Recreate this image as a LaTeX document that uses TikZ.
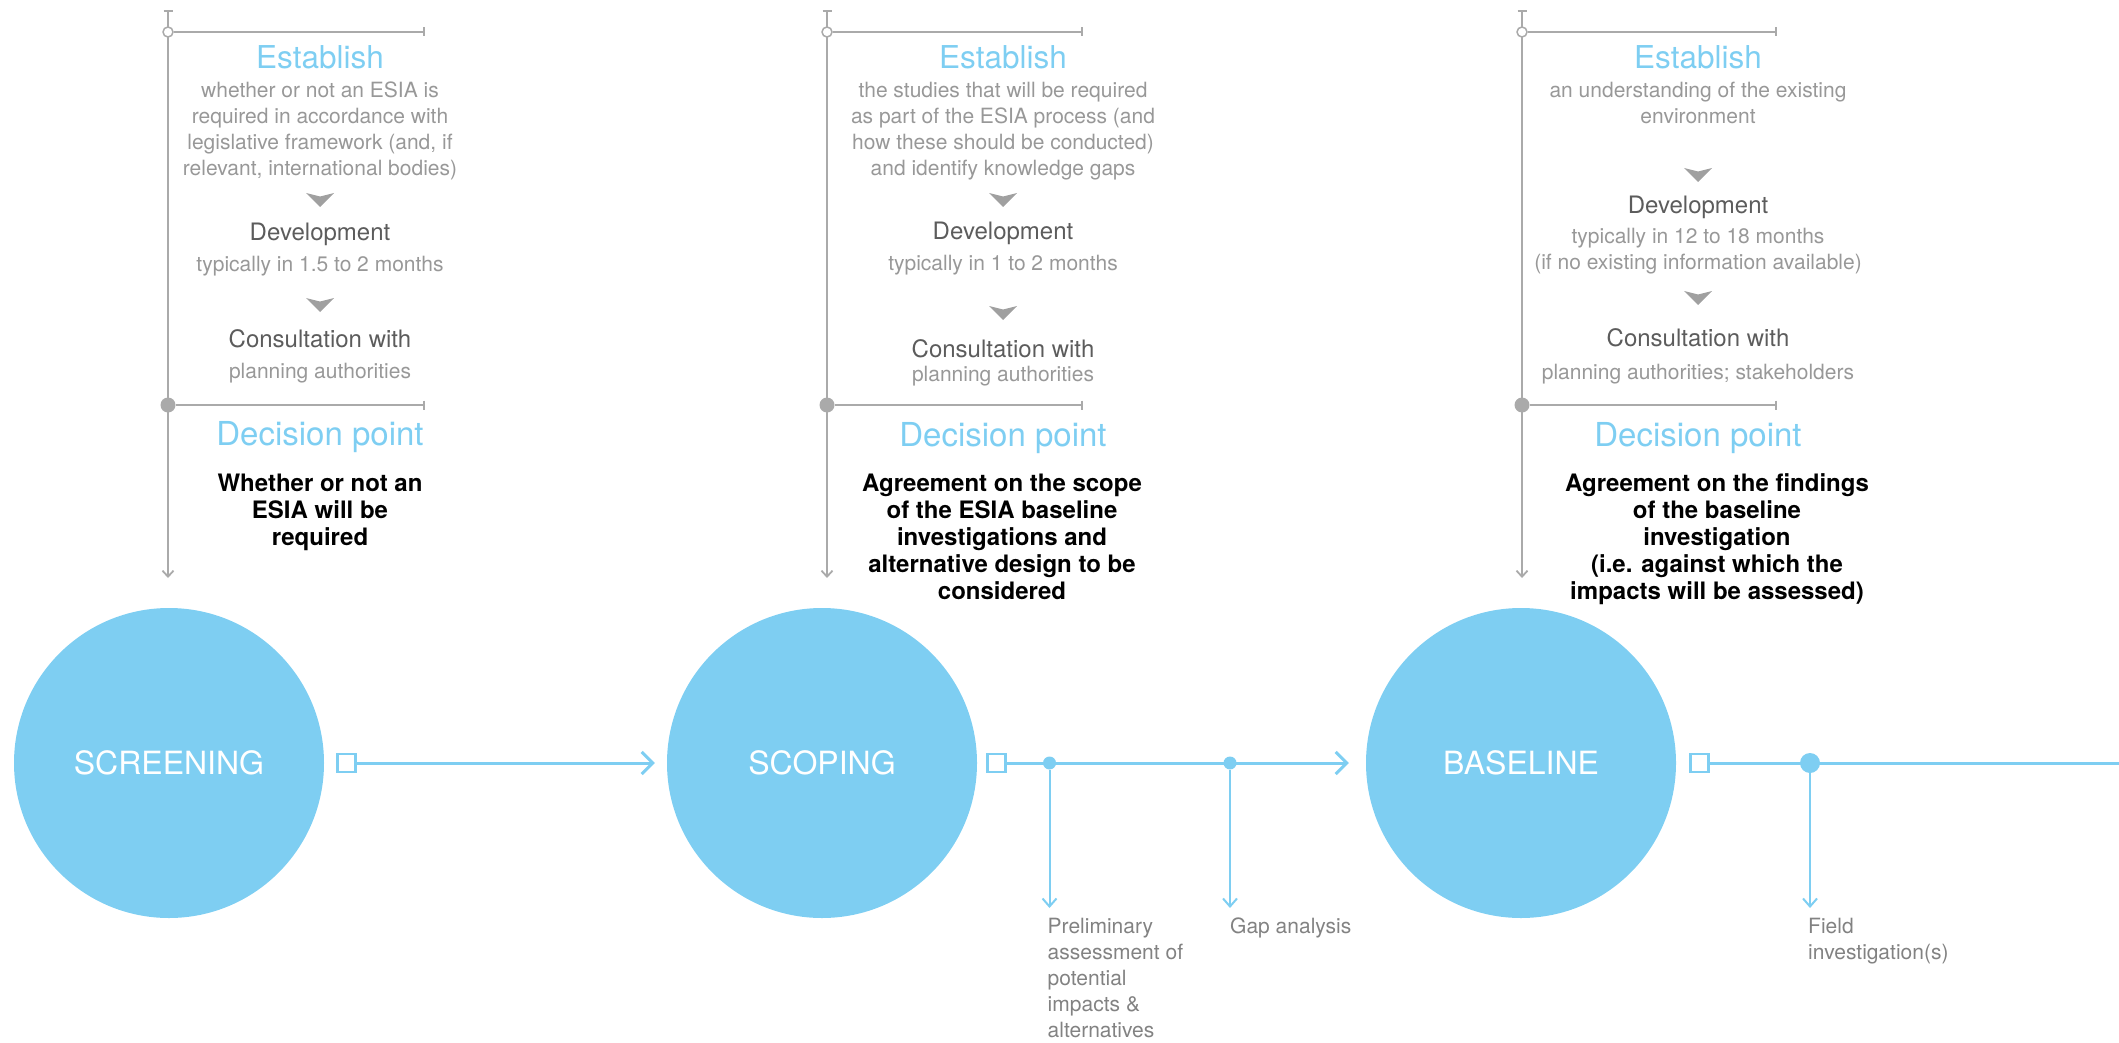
\documentclass[tikz,border=0pt]{standalone}
\usepackage{fontspec}
\setmainfont{TeX Gyre Heros}
\usetikzlibrary{arrows.meta,positioning}

\definecolor{esiablue}{RGB}{126,206,242}
\definecolor{railgray}{RGB}{170,170,170}
\definecolor{chevgray}{RGB}{160,160,160}
\definecolor{bodygray}{RGB}{152,152,152}
\definecolor{subgray}{RGB}{92,92,92}
\definecolor{notegray}{RGB}{130,130,130}

\begin{document}
\begin{tikzpicture}[x=1pt,y=-1pt,
		stage/.style={circle,fill=esiablue,minimum size=310pt,inner sep=0pt,text=white,font=\fontsize{32}{36}\selectfont},
		head/.style={text=esiablue,inner sep=0pt,font=\fontsize{31.5}{36}\selectfont},
		decide/.style={head,font=\fontsize{33}{38}\selectfont},
		body/.style={text=bodygray,align=center,inner sep=0pt,font=\fontsize{21}{26}\selectfont},
		sub/.style={text=subgray,inner sep=0pt,font=\fontsize{24}{28}\selectfont},
		verdict/.style={text=black,align=center,inner sep=0pt,font=\fontsize{24}{27}\selectfont\bfseries},
		note/.style={text=notegray,align=left,inner sep=0pt,font=\fontsize{21}{26}\selectfont},
		rail/.style={draw=railgray,line width=1.8pt},
		opendot/.style={circle,draw=railgray,fill=white,line width=1.5pt,minimum size=10pt,inner sep=0pt},
		closeddot/.style={circle,fill=railgray,minimum size=15pt,inner sep=0pt},
		flow/.style={draw=esiablue,line width=3pt},
		drop/.style={draw=esiablue,line width=2pt,-{Straight Barb[length=8pt,width=14pt]}},
		gate/.style={rectangle,draw=esiablue,fill=white,line width=2.5pt,minimum size=18pt,inner sep=0pt},
		junction/.style={circle,fill=esiablue,minimum size=13pt,inner sep=0pt}]
	\useasboundingbox (0,0) rectangle (2119,1043);

	% stages
	\node[stage] (screening) at (169,763) {SCREENING};
	\node[stage] (scoping) at (822,763) {SCOPING};
	\node[stage] (baseline) at (1521,763) {BASELINE};

	% screening panel
	\coordinate (top1) at (168,10);
	\coordinate (foot1) at (168,578);
	\draw[rail,{Bar[width=9pt]}-{Straight Barb[length=6pt,width=11pt]}] (top1) -- (foot1);
	\node[opendot] (open1) at (168,32) {};
	\node[closeddot] (shut1) at (168,405) {};
	\coordinate (stop1a) at (425,32);
	\coordinate (stop1b) at (425,405);
	\draw[rail,-{Bar[width=9pt]}] (open1) -- (stop1a);
	\draw[rail,-{Bar[width=9pt]}] (shut1) -- (stop1b);
	\node[head] (est1) at (320,57) {Establish};
	\node[body] (what1) at (320,131) {whether or not an ESIA is\\required in accordance with\\legislative framework (and, if\\relevant, international bodies)};
	\fill[chevgray] (306,193) -- (320,196.5) -- (334,193) -- (320,207) -- cycle;
	\node[sub] (dev1) at (320,234) {Development};
	\node[body] (time1) at (320,266) {typically in 1.5 to 2 months};
	\fill[chevgray] (306,298) -- (320,301.5) -- (334,298) -- (320,312) -- cycle;
	\node[sub] (con1) at (320,339) {Consultation with};
	\node[body] (who1) at (320,373) {planning authorities};
	\node[decide] (dp1) at (320,437) {Decision point};
	\node[verdict] (out1) at (320,512) {Whether or not an\\ESIA will be\\required};

	% scoping panel
	\coordinate (top2) at (827,10);
	\coordinate (foot2) at (827,578);
	\draw[rail,{Bar[width=9pt]}-{Straight Barb[length=6pt,width=11pt]}] (top2) -- (foot2);
	\node[opendot] (open2) at (827,32) {};
	\node[closeddot] (shut2) at (827,405) {};
	\coordinate (stop2a) at (1083,32);
	\coordinate (stop2b) at (1083,405);
	\draw[rail,-{Bar[width=9pt]}] (open2) -- (stop2a);
	\draw[rail,-{Bar[width=9pt]}] (shut2) -- (stop2b);
	\node[head] (est2) at (1003,57) {Establish};
	\node[body] (what2) at (1003,131.5) {the studies that will be required\\as part of the ESIA process (and\\how these should be conducted)\\and identify knowledge gaps};
	\fill[chevgray] (989,193) -- (1003,196.5) -- (1017,193) -- (1003,207) -- cycle;
	\node[sub] (dev2) at (1003,233) {Development};
	\node[body] (time2) at (1003,265) {typically in 1 to 2 months};
	\fill[chevgray] (989,306) -- (1003,309.5) -- (1017,306) -- (1003,320) -- cycle;
	\node[sub] (con2) at (1003,349) {Consultation with};
	\node[body] (who2) at (1003,376) {planning authorities};
	\node[decide] (dp2) at (1003,438) {Decision point};
	\node[verdict] (out2) at (1002,537) {Agreement on the scope\\of the ESIA baseline\\investigations and\\alternative design to be\\considered};

	% baseline panel
	\coordinate (top3) at (1522,10);
	\coordinate (foot3) at (1522,578);
	\draw[rail,{Bar[width=9pt]}-{Straight Barb[length=6pt,width=11pt]}] (top3) -- (foot3);
	\node[opendot] (open3) at (1522,32) {};
	\node[closeddot] (shut3) at (1522,405) {};
	\coordinate (stop3a) at (1777,32);
	\coordinate (stop3b) at (1777,405);
	\draw[rail,-{Bar[width=9pt]}] (open3) -- (stop3a);
	\draw[rail,-{Bar[width=9pt]}] (shut3) -- (stop3b);
	\node[head] (est3) at (1698,57) {Establish};
	\node[body] (what3) at (1698,103) {an understanding of the existing\\environment};
	\fill[chevgray] (1684,168) -- (1698,171.5) -- (1712,168) -- (1698,182) -- cycle;
	\node[sub] (dev3) at (1698,207) {Development};
	\node[body] (time3) at (1698,251) {typically in 12 to 18 months\\(if no existing information available)};
	\fill[chevgray] (1684,291) -- (1698,294.5) -- (1712,291) -- (1698,305) -- cycle;
	\node[sub] (con3) at (1698,338) {Consultation with};
	\node[body] (who3) at (1698,374) {planning authorities; stakeholders};
	\node[decide] (dp3) at (1698,438) {Decision point};
	\node[verdict] (out3) at (1717,539) {Agreement on the findings\\of the baseline\\investigation\\(i.e. against which the\\impacts will be assessed)};

	% flow between stages
	\node[gate,right=12pt of screening] (gate1) {};
	\node[gate,right=9pt of scoping] (gate2) {};
	\node[gate,right=13pt of baseline] (gate3) {};
	\coordinate (edge) at (2119,763);
	\draw[flow,-{Straight Barb[length=11pt,width=22pt]},shorten >=12pt] (gate1) -- (scoping);
	\draw[flow,-{Straight Barb[length=11pt,width=22pt]},shorten >=17pt] (gate2) -- (baseline);
	\draw[flow] (gate3) -- (edge);

	\node[junction] (prelim) at (1049.5,763) {};
	\node[junction] (gap) at (1230,763) {};
	\node[junction,minimum size=20pt] (field) at (1810,763) {};
	\coordinate (prelimend) at (1049.5,908);
	\coordinate (gapend) at (1230,908);
	\coordinate (fieldend) at (1810,908);
	\draw[drop] (prelim) -- (prelimend);
	\draw[drop] (gap) -- (gapend);
	\draw[drop] (field) -- (fieldend);

	\node[note,below right=10pt and -2pt of prelimend] (prelimtext) {Preliminary\\assessment of\\potential\\impacts \&\\alternatives};
	\node[note,below right=10pt and 0pt of gapend] (gaptext) {Gap analysis};
	\node[note,below right=10pt and -2pt of fieldend] (fieldtext) {Field\\investigation(s)};
\end{tikzpicture}
\end{document}
